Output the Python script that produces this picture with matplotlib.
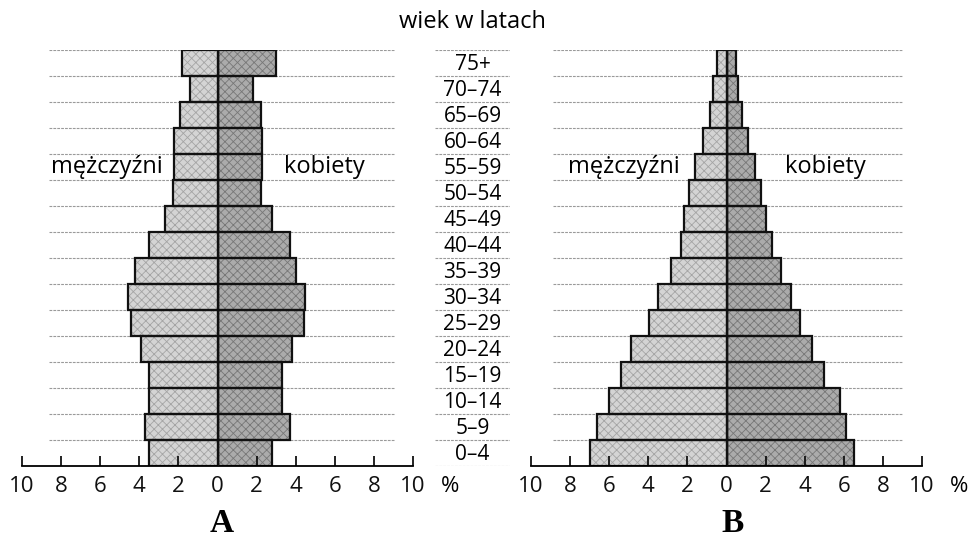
import matplotlib
matplotlib.use('Agg')
import matplotlib.pyplot as plt

plt.rcParams['font.family'] = ['Open Sans', 'DejaVu Sans']
plt.rcParams['hatch.linewidth'] = 0.6

# Data (percent of population, bottom row first)
age_groups = ['0–4', '5–9', '10–14', '15–19', '20–24', '25–29', '30–34', '35–39',
              '40–44', '45–49', '50–54', '55–59', '60–64', '65–69', '70–74', '75+']
men_a = [3.5, 3.7, 3.5, 3.5, 3.9, 4.4, 4.6, 4.2, 3.5, 2.7, 2.3, 2.2, 2.2, 1.9, 1.4, 1.8]
women_a = [2.8, 3.7, 3.3, 3.3, 3.8, 4.4, 4.5, 4.0, 3.7, 2.8, 2.2, 2.3, 2.3, 2.2, 1.8, 3.0]
men_b = [7.0, 6.6, 6.0, 5.4, 4.9, 3.95, 3.5, 2.85, 2.35, 2.15, 1.9, 1.6, 1.2, 0.85, 0.7, 0.5]
women_b = [6.5, 6.1, 5.8, 5.0, 4.35, 3.75, 3.3, 2.8, 2.35, 2.0, 1.75, 1.45, 1.1, 0.8, 0.6, 0.5]
ticks = [-10, -8, -6, -4, -2, 0, 2, 4, 6, 8, 10]

W, H = 971, 538
fig = plt.figure(figsize=(W / 100, H / 100), dpi=100)

dot = dict(color='#9a9a9a', linestyle=(0, (2.5, 1)), linewidth=0.8)
PAD = 7  # points between axis line and tick labels


def pyramid(ax, men, women, grid_span, label_pos):
    y = list(range(len(age_groups)))
    # dotted row separators
    ax.hlines([v + 1 for v in y], grid_span[0], grid_span[1], zorder=0, **dot)
    left = [-m for m in men]
    ax.barh(y, left, height=1, align='edge', color='#d4d4d4', edgecolor='#a4a4a4',
            hatch='xxxx', linewidth=0, zorder=1)
    ax.barh(y, women, height=1, align='edge', color='#ababab', edgecolor='#777777',
            hatch='xxxx', linewidth=0, zorder=1)
    ax.barh(y, left, height=1, align='edge', fill=False, edgecolor='#111111',
            linewidth=1.6, zorder=2)
    ax.barh(y, women, height=1, align='edge', fill=False, edgecolor='#111111',
            linewidth=1.6, zorder=2)
    ax.vlines(0, 0, len(age_groups), color='#111111', linewidth=1.0, zorder=3)

    ax.set_xlim(-10, 10)
    ax.set_ylim(0, len(age_groups))
    for s in ['top', 'left', 'right']:
        ax.spines[s].set_visible(False)
    ax.spines['bottom'].set_linewidth(1.3)
    ax.set_yticks([])
    ax.set_xticks(ticks)
    ax.set_xticklabels([str(abs(t)) for t in ticks])
    ax.tick_params(axis='x', direction='in', length=7.5, width=1.3, pad=PAD,
                   labelsize=16, colors='#111111')
    ax.annotate('%', xy=(11.9, 0), xycoords=ax.get_xaxis_transform(),
                xytext=(0, -PAD), textcoords='offset points', fontsize=16,
                ha='center', va='top', annotation_clip=False)
    ax.text(label_pos[0], 11.5, 'mężczyźni', fontsize=17, ha='left', va='center')
    ax.text(label_pos[1], 11.5, 'kobiety', fontsize=17, ha='left', va='center')
    ax.patch.set_alpha(0)


bottom = (H - 466) / H
height = 416 / H

ax_a = fig.add_axes([22 / W, bottom, 391 / W, height])
pyramid(ax_a, men_a, women_a, (-8.6, 9.1), (-8.5, 3.4))

ax_b = fig.add_axes([531 / W, bottom, 391 / W, height])
pyramid(ax_b, men_b, women_b, (-8.9, 9.05), (-8.1, 3.0))

# middle column with age groups
ax_m = fig.add_axes([435 / W, bottom, 75 / W, height])
ax_m.set_xlim(0, 1)
ax_m.set_ylim(0, len(age_groups))
ax_m.axis('off')
ax_m.hlines(range(len(age_groups) + 1), 0, 1, **dot)
for i, lab in enumerate(age_groups):
    ax_m.text(0.5, i + 0.45, lab, fontsize=15, ha='center', va='center')

fig.text(472 / W, (H - 22) / H, 'wiek w latach', fontsize=17, ha='center', va='center')
fig.text(222 / W, (H - 524) / H, 'A', fontsize=24, fontweight='bold',
         family='Liberation Serif', ha='center', va='center')
fig.text(733 / W, (H - 524) / H, 'B', fontsize=24, fontweight='bold',
         family='Liberation Serif', ha='center', va='center')

fig.savefig('out.png', dpi=100)
